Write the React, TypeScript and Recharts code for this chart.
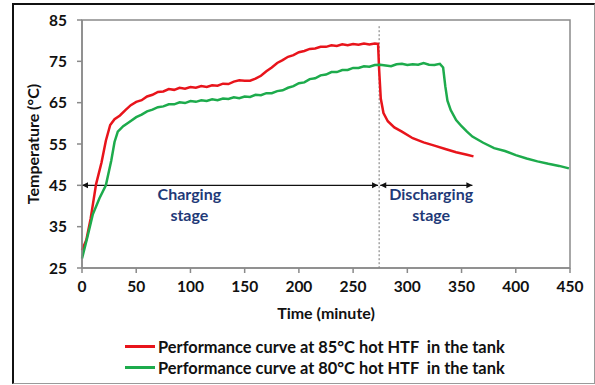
import React from "react";
import {
  LineChart,
  Line,
  XAxis,
  YAxis,
  ReferenceLine,
  ReferenceArea,
  ReferenceDot,
} from "recharts";

// Tank temperature during charging / discharging, time in minutes
const hot85Time = [
  0, 4, 8, 13, 18, 22, 26, 30, 35, 40, 45, 50, 55, 60, 65, 70, 75, 80, 85, 90,
  95, 100, 105, 110, 115, 120, 125, 130, 135, 140, 145, 150, 155, 160, 165, 170,
  175, 180, 185, 190, 195, 200, 205, 210, 215, 220, 225, 230, 235, 240, 245, 250,
  255, 260, 265, 270, 273, 274, 275.5, 278, 282, 288, 295, 305, 315, 325, 335,
  345, 355, 361,
];
const hot85Temp = [
  29.3, 31.8, 37, 45.3, 50.5, 55.8, 59.6, 61, 61.9, 63.2, 64.4, 65.2, 65.6, 66.5,
  66.9, 67.6, 67.7, 68.3, 68.1, 68.6, 68.4, 68.8, 68.6, 69, 68.8, 69.2, 69.1, 69.6,
  69.5, 70.1, 70.4, 70.3, 70.3, 70.8, 71.5, 72.6, 73.5, 74.6, 75.3, 76.1, 76.5,
  77.2, 77.5, 78, 78.1, 78.5, 78.5, 78.9, 78.7, 79.1, 78.9, 79.2, 79, 79.3, 79.1,
  79.3, 79.2, 73, 66, 62.5, 60.5, 59, 58, 56.4, 55.4, 54.6, 53.8, 53, 52.4, 52,
];

const hot80Time = [
  0, 5, 10, 16, 22, 27, 30, 33, 38, 44, 50, 55, 60, 65, 70, 75, 80, 85, 90, 95,
  100, 105, 110, 115, 120, 125, 130, 135, 140, 145, 150, 155, 160, 165, 170, 175,
  180, 185, 190, 195, 200, 205, 210, 215, 220, 225, 230, 235, 240, 245, 250, 255,
  260, 265, 270, 275, 280, 285, 290, 295, 300, 305, 310, 315, 320, 325, 330, 333,
  335, 337, 340, 345, 350, 355, 360, 370, 380, 390, 400, 410, 420, 430, 440, 449,
];
const hot80Temp = [
  27.3, 32.5, 38, 41.8, 45, 51, 55.5, 58, 59.3, 60.4, 61.5, 62.1, 62.9, 63.3, 63.9,
  64.1, 64.6, 64.6, 65.1, 64.9, 65.4, 65.2, 65.6, 65.4, 65.8, 65.6, 66, 65.9, 66.3,
  66.1, 66.5, 66.4, 66.9, 66.8, 67.3, 67.3, 67.8, 68, 68.6, 69, 69.7, 69.9, 70.7,
  70.9, 71.6, 71.8, 72.4, 72.4, 72.9, 72.9, 73.4, 73.4, 73.8, 73.7, 74.1, 74.2, 74,
  73.8, 74.3, 74.4, 74.1, 74.3, 74.2, 74.6, 74.2, 74.1, 74.4, 73.5, 69, 65.5, 63.2,
  60.8, 59.3, 58, 56.8, 55.3, 54, 53.3, 52.3, 51.5, 50.8, 50.2, 49.7, 49.1,
];

const xTicks = [0, 50, 100, 150, 200, 250, 300, 350, 400, 450];
const yTicks = [25, 35, 45, 55, 65, 75, 85];

const chargeEnd = 274;
const dischargeEnd = 360;
const arrowLevel = 45;

const series = [
  {
    key: "hot85",
    name: "Performance curve at 85°C hot HTF  in the tank",
    color: "#E8141B",
    data: hot85Time.map((t, i) => ({ t, v: hot85Temp[i] })),
  },
  {
    key: "hot80",
    name: "Performance curve at 80°C hot HTF  in the tank",
    color: "#1DAB4C",
    data: hot80Time.map((t, i) => ({ t, v: hot80Temp[i] })),
  },
];

const FONT = "Lato, 'Open Sans', sans-serif";
const NAVY = "#1F3A78";
const GREY = "#8a8a8a";

// double-headed horizontal arrow
function Arrow(props: any) {
  const { x1, x2, y1 } = props;
  const h = 3;
  const w = 6;
  return (
    <g>
      <line x1={x1} y1={y1} x2={x2} y2={y1} stroke="#111" strokeWidth={1.2} />
      <polygon points={`${x1},${y1} ${x1 + w},${y1 - h} ${x1 + w},${y1 + h}`} fill="#111" />
      <polygon points={`${x2},${y1} ${x2 - w},${y1 - h} ${x2 - w},${y1 + h}`} fill="#111" />
    </g>
  );
}

function StageLabel(lines: string[]) {
  return (props: any) => {
    const { cx, cy } = props;
    return (
      <text
        x={cx}
        y={cy}
        textAnchor="middle"
        fill={NAVY}
        fontFamily={FONT}
        fontWeight={700}
        fontSize={16}
      >
        {lines.map((l, i) => (
          <tspan key={i} x={cx} dy={i === 0 ? 0 : 21}>
            {l}
          </tspan>
        ))}
      </text>
    );
  };
}

export default function App() {
  return (
    <div
      style={{
        position: "absolute",
        left: 0,
        top: 0,
        width: 595,
        height: 385,
        background: "#fff",
        fontFamily: FONT,
      }}
    >
      <div
        style={{
          position: "absolute",
          left: 12,
          top: 3,
          width: 580,
          height: 378,
          borderLeft: "2px solid #111",
          borderTop: "2px solid #111",
          borderRight: "1px solid #9a9a9a",
          borderBottom: "1px solid #9a9a9a",
        }}
      />
      <LineChart
        width={595}
        height={385}
        margin={{ top: 20, right: 25, left: 0, bottom: 0 }}
        style={{ position: "absolute", left: 0, top: 0 }}
      >
        <ReferenceArea
          x1={0}
          x2={450}
          y1={25}
          y2={85}
          fill="none"
          stroke={GREY}
          strokeWidth={1.5}
        />
        <XAxis
          type="number"
          dataKey="t"
          domain={[0, 450]}
          ticks={xTicks}
          allowDuplicatedCategory={false}
          height={117}
          stroke={GREY}
          strokeWidth={1.5}
          tickSize={5}
          tickMargin={8}
          tick={{ fill: "#111", fontSize: 15.5, fontWeight: 700, fontFamily: FONT }}
          label={{
            value: "Time (minute)",
            position: "insideTop",
            offset: 40,
            style: { fill: "#111", fontSize: 16, fontWeight: 700, fontFamily: FONT },
          }}
        />
        <YAxis
          type="number"
          domain={[25, 85]}
          ticks={yTicks}
          width={82}
          stroke={GREY}
          strokeWidth={1.5}
          tickSize={5}
          tickMargin={10}
          tick={{ fill: "#111", fontSize: 15.5, fontWeight: 700, fontFamily: FONT }}
          label={{
            value: "Temperature (°C)",
            angle: -90,
            position: "insideLeft",
            offset: 33,
            style: {
              fill: "#111",
              fontSize: 16,
              fontWeight: 700,
              fontFamily: FONT,
              textAnchor: "middle",
            },
          }}
        />
        <ReferenceLine
          segment={[
            { x: chargeEnd, y: 83.5 },
            { x: chargeEnd, y: 25 },
          ]}
          stroke="#777"
          strokeDasharray="2 2"
          strokeWidth={1}
        />
        <ReferenceLine
          segment={[
            { x: 0, y: arrowLevel },
            { x: chargeEnd - 1, y: arrowLevel },
          ]}
          shape={Arrow}
        />
        <ReferenceLine
          segment={[
            { x: chargeEnd + 1, y: arrowLevel },
            { x: dischargeEnd, y: arrowLevel },
          ]}
          shape={Arrow}
        />
        {series.map((s) => (
          <Line
            key={s.key}
            data={s.data}
            dataKey="v"
            name={s.name}
            type="linear"
            stroke={s.color}
            strokeWidth={2.5}
            dot={false}
            isAnimationActive={false}
          />
        ))}
        <ReferenceDot
          x={99}
          y={41.4}
          r={0}
          shape={StageLabel(["Charging", "stage"])}
        />
        <ReferenceDot
          x={322}
          y={41.4}
          r={0}
          shape={StageLabel(["Discharging", "stage"])}
        />
      </LineChart>
      {/* legend */}
      <div style={{ position: "absolute", left: 125, top: 336 }}>
        {series.map((s) => (
          <div
            key={s.key}
            style={{ display: "flex", alignItems: "center", height: 21 }}
          >
            <span
              style={{
                display: "inline-block",
                width: 30,
                height: 3,
                background: s.color,
                marginRight: 3,
              }}
            />
            <span style={{ fontSize: 16.4, fontWeight: 700, color: "#111", whiteSpace: "pre" }}>
              {s.name}
            </span>
          </div>
        ))}
      </div>
    </div>
  );
}
